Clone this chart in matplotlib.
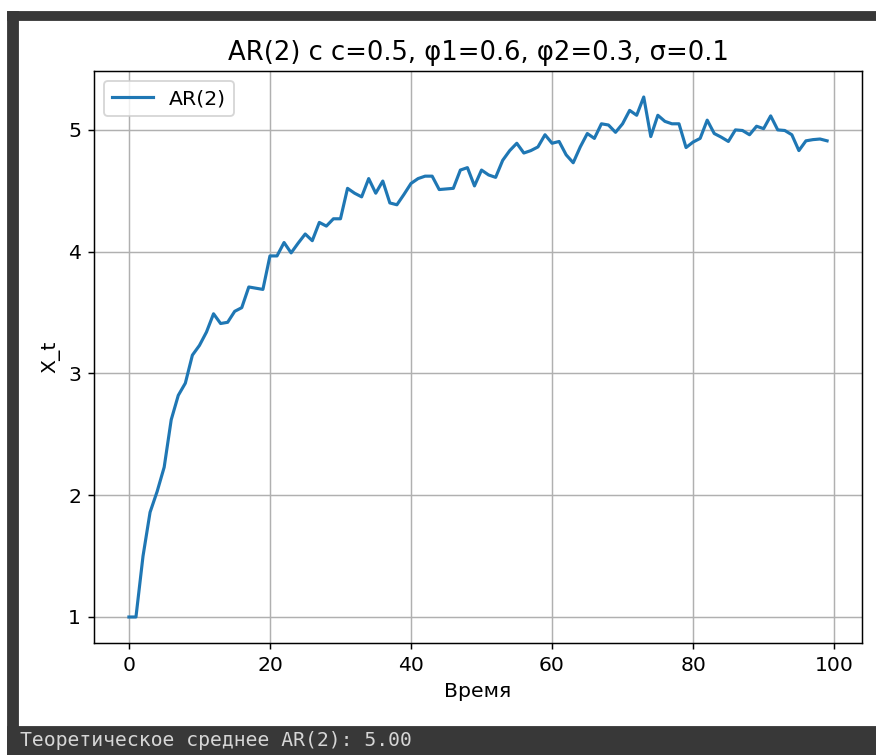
import matplotlib
matplotlib.use("Agg")
import matplotlib.pyplot as plt
from matplotlib.patches import Rectangle

# simulated AR(2) path, t = 0..99
t = list(range(100))
x_t = [
    1.00, 1.00, 1.50, 1.86, 2.03, 2.23, 2.62, 2.82, 2.92, 3.15,
    3.23, 3.34, 3.49, 3.41, 3.42, 3.51, 3.54, 3.71, 3.70, 3.69,
    3.965, 3.965, 4.075, 3.99, 4.07, 4.145, 4.09, 4.24, 4.21, 4.27,
    4.27, 4.52, 4.48, 4.45, 4.60, 4.48, 4.58, 4.40, 4.385, 4.47,
    4.56, 4.60, 4.62, 4.62, 4.51, 4.515, 4.52, 4.67, 4.69, 4.54,
    4.67, 4.63, 4.61, 4.75, 4.83, 4.89, 4.81, 4.83, 4.86, 4.96,
    4.89, 4.905, 4.795, 4.73, 4.86, 4.97, 4.93, 5.05, 5.04, 4.98,
    5.05, 5.16, 5.12, 5.27, 4.945, 5.12, 5.07, 5.05, 5.05, 4.855,
    4.90, 4.93, 5.08, 4.97, 4.94, 4.905, 5.00, 4.995, 4.96, 5.03,
    5.01, 5.115, 5.00, 4.995, 4.96, 4.83, 4.91, 4.92, 4.925, 4.91,
]
title = "AR(2) с c=0.5, φ1=0.6, φ2=0.3, σ=0.1"
mean_text = "Теоретическое среднее AR(2): 5.00"

W, H = 876, 755
DPI = 133
plt.rcParams['font.size'] = 11
fig = plt.figure(figsize=(W / DPI, H / DPI), dpi=DPI)


def px_rect(x0, y0, x1, y1, color):
    # rectangle given in pixels from the top-left corner
    fig.patches.append(Rectangle((x0 / W, 1 - y1 / H), (x1 - x0) / W, (y1 - y0) / H,
                                 transform=fig.transFigure, color=color,
                                 zorder=-10))


dark = "#383838"
px_rect(8, 12, W, 20, dark)
px_rect(8, 12, 18, H, dark)
px_rect(8, 727, W, H, dark)
fig.text(20 / W, 1 - 741 / H, mean_text, family="DejaVu Sans Mono",
         fontsize=10.7, color="#d6d6d6", va="center", ha="left")

left, right, top, bottom = 94, 862, 71, 643
ax = fig.add_axes([left / W, 1 - bottom / H, (right - left) / W, (bottom - top) / H])
ax.plot(t, x_t, label="AR(2)", lw=1.7)
ax.set_title(title, fontsize=14)
ax.set_xlabel("Время")
ax.set_ylabel("X_t")
ax.legend(loc="upper left")
ax.grid(True)

fig.savefig("out.png", dpi=DPI)
